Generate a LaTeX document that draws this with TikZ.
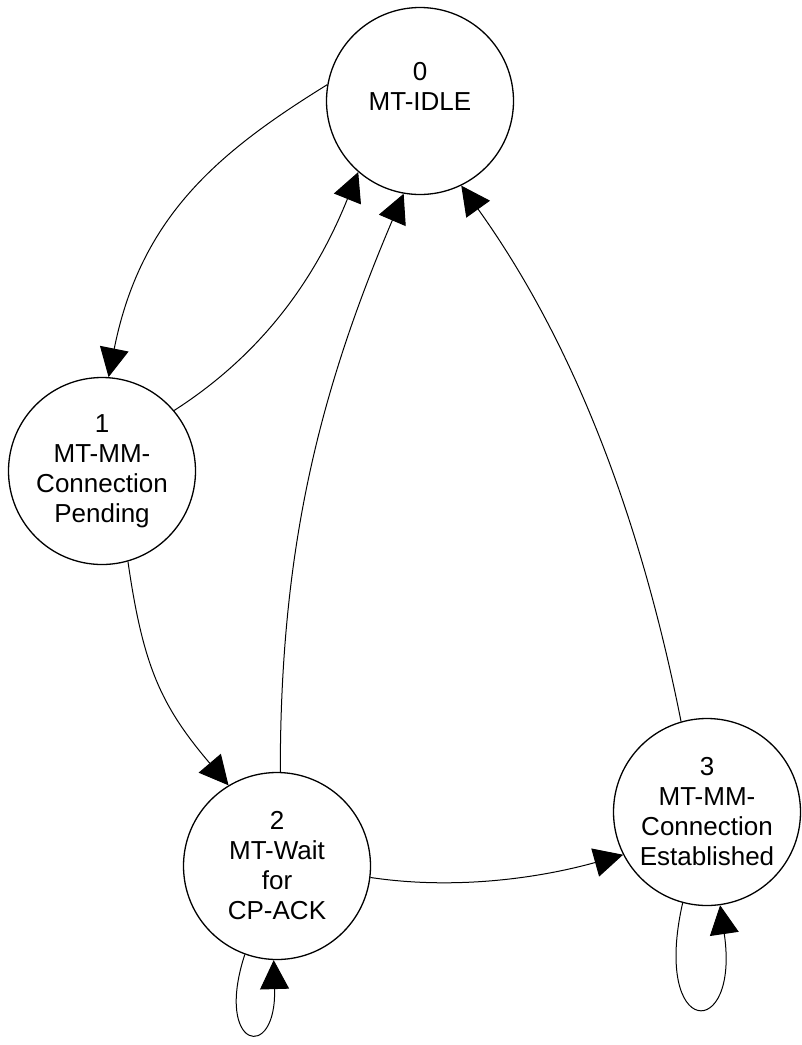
\documentclass[tikz,border=0pt]{standalone}
\usepackage{fontspec}
\setmainfont{Liberation Sans}
\usetikzlibrary{arrows.meta, positioning}

\begin{document}
\begin{tikzpicture}[
    on grid,
    statecircle/.style={circle, draw, line width=1.3pt, minimum size=187pt, inner sep=0pt, align=center, font=\fontsize{26pt}{30pt}\selectfont},
    arrow/.style={-{Triangle[length=29pt, width=29pt]}, line width=1pt}
]
\useasboundingbox (0,0) rectangle (802pt,-1045pt);

\node[statecircle] (idle) at (420pt,-101pt) {0\\MT-IDLE\\~};
\node[statecircle, below left=370pt and 318pt of idle] (pending) {1\\MT-MM-\\Connection\\Pending};
\node[statecircle, below right=395pt and 175pt of pending] (waitack) {2\\MT-Wait\\for\\CP-ACK};
\node[statecircle, above right=54pt and 430pt of waitack] (established) {3\\MT-MM-\\Connection\\Established};

\draw[arrow] (idle.170) .. controls +(-110pt,-68pt) and +(32pt,160pt) .. (pending.86);
\draw[arrow] (pending.40) .. controls +(92pt,59pt) and +(-41pt,-102pt) .. (idle.229);
\draw[arrow] (pending.286) .. controls +(15pt,-104pt) and +(-68pt,80pt) .. (waitack.121);
\draw[arrow] (waitack.88) .. controls +(0pt,220pt) and +(-86pt,-202pt) .. (idle.260);
\draw[arrow] (established.106) .. controls +(-39pt,196pt) and +(116pt,-162pt) .. (idle.296);
\draw[arrow] (waitack.353) .. controls +(80pt,-12pt) and +(-90pt,-25pt) .. (established.207);
\draw[arrow] (waitack.250) .. controls +(-31pt,-95pt) and +(3pt,-103pt) .. (waitack.268);
\draw[arrow] (established.255) .. controls +(-31pt,-137pt) and +(20pt,-137pt) .. (established.278);

\end{tikzpicture}
\end{document}
